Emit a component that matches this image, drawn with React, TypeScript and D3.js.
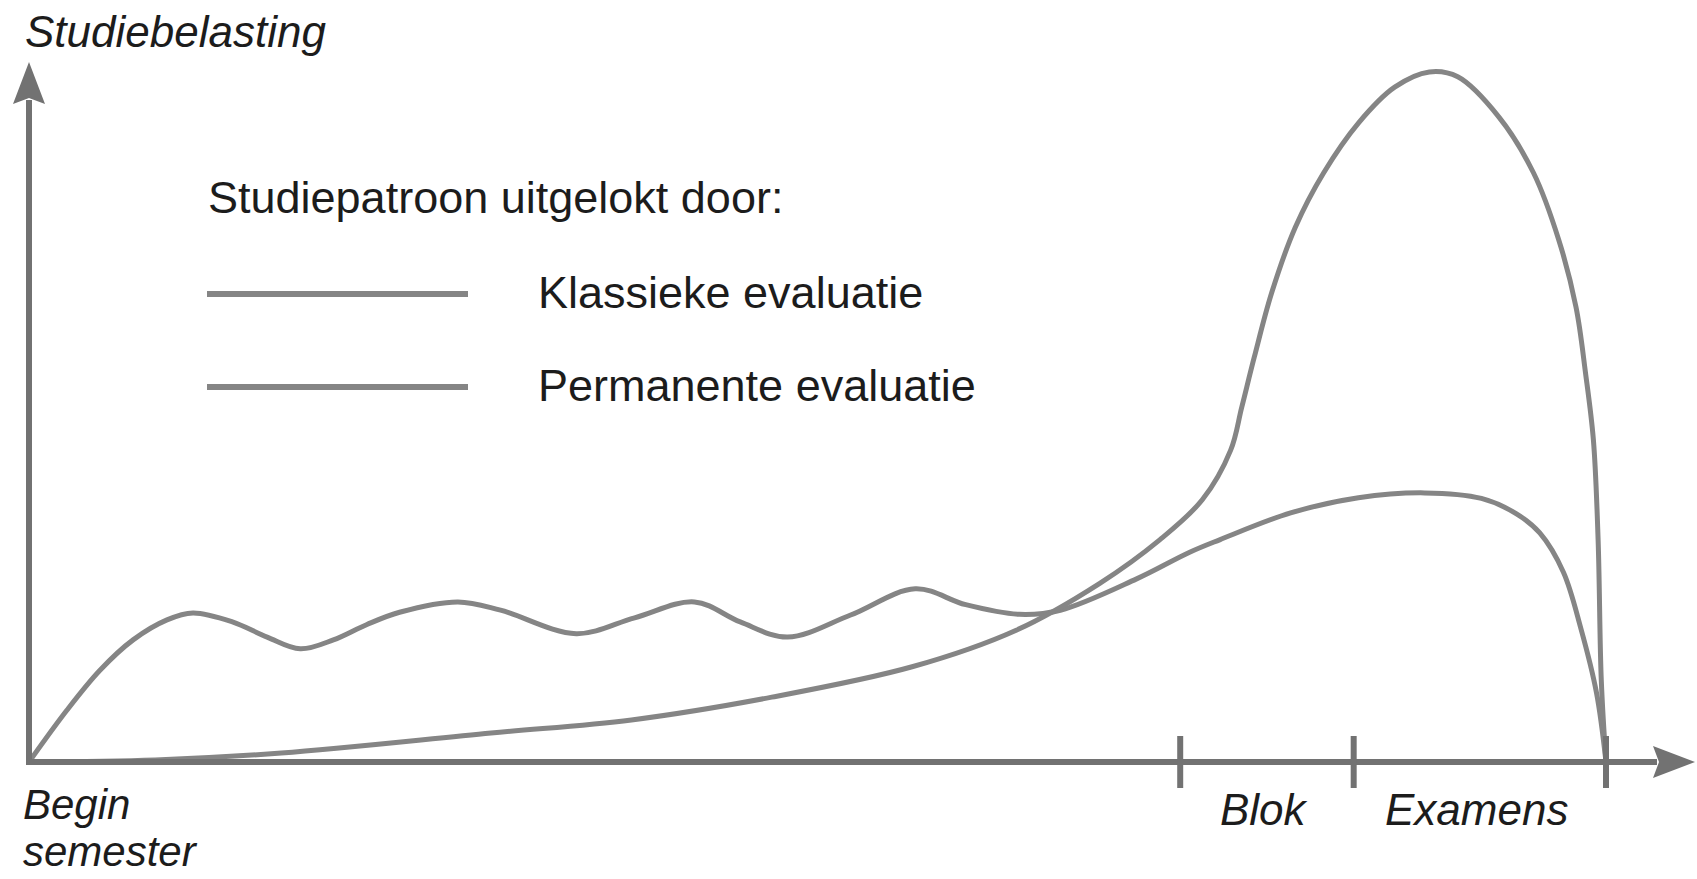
import React from "react";
import * as d3 from "d3";

// Time along the semester (0 = begin, 100 = end of exams) and study load (0..100)
const klassiekeX = [0, 8, 16, 29.3, 38.2, 47.1, 56, 62.6, 67.9, 71.7, 74.4, 76.2, 76.9, 77.7, 78.8, 80.3, 82.1, 84.3, 86.6, 88.8, 90.6, 93.2, 95.4, 97, 98.1, 98.7, 99.2, 99.5, 99.7, 100];
const klassiekeY = [0, 0.3, 1.3, 4.2, 6.1, 9.4, 13.8, 19.1, 25.9, 32.2, 38, 45.2, 51.4, 58.7, 68, 77.5, 85.4, 92.6, 97.8, 100, 99.3, 93.5, 85.4, 75.7, 65.9, 56.4, 46.7, 32.2, 11.9, 0];

const permanenteX = [0, 2.4, 4.5, 6.6, 8.75, 10.4, 12.9, 15.1, 17.2, 19.3, 21.4, 23.5, 27.2, 29.9, 34.7, 38.4, 42.2, 45.1, 48.1, 52.1, 56.2, 59.4, 62.8, 65.4, 70.2, 73.6, 75.5, 80, 84.3, 88.5, 92.1, 94.3, 95.8, 97.3, 98.4, 99.4, 100];
const permanenteY = [0, 7.5, 13.3, 17.7, 20.6, 21.6, 20.3, 18.1, 16.4, 17.7, 19.9, 21.7, 23.2, 22, 18.6, 20.9, 23.2, 20.3, 18.1, 21.3, 25.1, 22.8, 21.4, 22, 26.5, 30.4, 32.2, 36.1, 38.3, 39, 38.2, 36, 33.2, 27.5, 19.4, 10, 0];

const phaseTicks = [73, 84, 100];
const phaseLabels = ["Blok", "Examens"];
const yTitle = "Studiebelasting";
const xStartLabel = ["Begin", "semester"];
const legendTitle = "Studiepatroon uitgelokt door:";
const seriesNames = ["Klassieke evaluatie", "Permanente evaluatie"];

export default function App() {
  const W = 1697;
  const H = 879;
  const x = d3.scaleLinear().domain([0, 100]).range([29, 1606]);
  const y = d3.scaleLinear().domain([0, 100]).range([762, 72]);

  const line = d3
    .line<[number, number]>()
    .x((d) => x(d[0]))
    .y((d) => y(d[1]))
    .curve(d3.curveCatmullRom.alpha(0.5));

  const klassieke = klassiekeX.map((v, i) => [v, klassiekeY[i]] as [number, number]);
  const permanente = permanenteX.map((v, i) => [v, permanenteY[i]] as [number, number]);

  const axisColor = "#727272";
  const curveColor = "#858585";
  const textColor = "#1c1c1c";
  const font = "'Liberation Sans', Arial, Helvetica, sans-serif";

  const x0 = x(0);
  const y0 = y(0);
  const yTip = 62;
  const xTip = 1695;
  const arrowLen = 42;
  const arrowHalf = 16;

  return (
    <svg
      width={W}
      height={H}
      style={{ position: "absolute", left: 0, top: 0, background: "#fff" }}
      fontFamily={font}
    >
      <rect x={0} y={0} width={W} height={H} fill="#fff" />
      {/* Curves */}
      <path d={line(permanente) || ""} fill="none" stroke={curveColor} strokeWidth={5} strokeLinejoin="round" />
      <path d={line(klassieke) || ""} fill="none" stroke={curveColor} strokeWidth={5} strokeLinejoin="round" />

      {/* Axes */}
      <line x1={x0} y1={y0} x2={x0} y2={yTip + arrowLen - 4} stroke={axisColor} strokeWidth={6} />
      <line x1={x0 - 3} y1={y0} x2={xTip - arrowLen + 4} y2={y0} stroke={axisColor} strokeWidth={6} />
      <path
        d={`M${x0},${yTip} L${x0 + arrowHalf},${yTip + arrowLen} L${x0},${yTip + arrowLen - 6} L${x0 - arrowHalf},${yTip + arrowLen} Z`}
        fill={axisColor}
      />
      <path
        d={`M${xTip},${y0} L${xTip - arrowLen},${y0 - arrowHalf} L${xTip - arrowLen + 6},${y0} L${xTip - arrowLen},${y0 + arrowHalf} Z`}
        fill={axisColor}
      />
      {phaseTicks.map((t) => (
        <line key={t} x1={x(t)} x2={x(t)} y1={y0 - 26} y2={y0 + 26} stroke={axisColor} strokeWidth={6} />
      ))}

      {/* Axis labels */}
      <text x={25} y={47} fontSize={44} fontStyle="italic" fill={textColor}>
        {yTitle}
      </text>
      <text x={23} y={819} fontSize={42} fontStyle="italic" fill={textColor}>
        {xStartLabel[0]}
      </text>
      <text x={23} y={866} fontSize={42} fontStyle="italic" fill={textColor}>
        {xStartLabel[1]}
      </text>
      <text x={1220} y={825} fontSize={44} fontStyle="italic" fill={textColor}>
        {phaseLabels[0]}
      </text>
      <text x={1385} y={825} fontSize={44} fontStyle="italic" fill={textColor}>
        {phaseLabels[1]}
      </text>

      {/* Legend */}
      <text x={208} y={213} fontSize={45} fill={textColor}>
        {legendTitle}
      </text>
      {seriesNames.map((name, i) => {
        const ly = 294 + i * 93;
        return (
          <g key={name}>
            <line x1={207} x2={468} y1={ly} y2={ly} stroke={curveColor} strokeWidth={6} />
            <text x={538} y={ly + 14} fontSize={45} fill={textColor}>
              {name}
            </text>
          </g>
        );
      })}
    </svg>
  );
}
